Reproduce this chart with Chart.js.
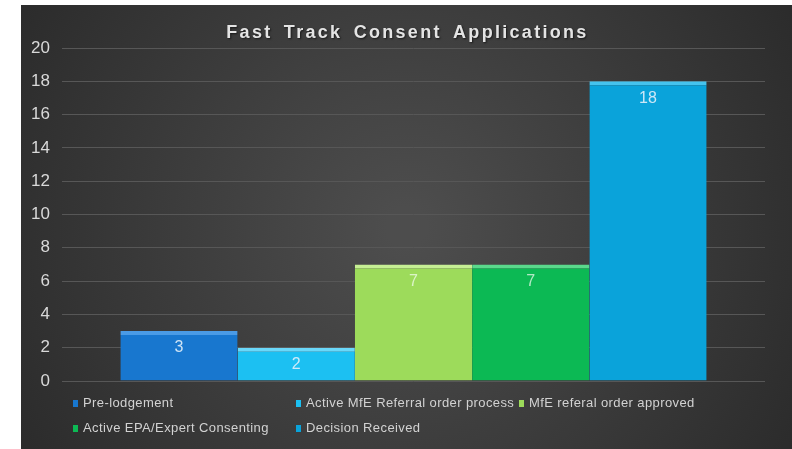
<!DOCTYPE html>
<html lang="en">
<head>
    <meta charset="UTF-8">
    <title>Fast Track Consent Applications</title>
    <script src="https://cdn.jsdelivr.net/npm/chart.js"></script>
    <style>
        body { margin: 0; background: #fff; }
        #wrap { position: absolute; left: 21px; top: 5px; width: 771px; height: 444px; }
    </style>
</head>
<body>
    <div id="wrap"><canvas id="dataChart"></canvas></div>

    <script>
        // chart data
        const chartTitle = 'Fast Track Consent Applications';
        const seriesNames = [
            'Pre-lodgement',
            'Active MfE Referral order process',
            'MfE referal order approved',
            'Active EPA/Expert Consenting',
            'Decision Received'
        ];
        const seriesValues = [3, 2, 7, 7, 18];
        const seriesColors = ['#1877cf', '#1cc0f2', '#9ddb5b', '#0cb954', '#0aa3da'];
        const bevelColors = ['#4a9be6', '#6ad8fa', '#c6ef94', '#5ad98c', '#45c3ee'];
        const labelColors = ['rgba(225,238,250,0.9)', 'rgba(225,238,250,0.9)', 'rgba(235,250,225,0.8)', 'rgba(220,245,225,0.8)', 'rgba(225,238,250,0.9)'];
        const yMin = 0, yMax = 20, yStep = 2;

        // legend layout (Excel-like columns)
        const legendSlots = [[54, 398], [277, 398], [500, 398], [54, 423], [277, 423]];

        const backgroundPlugin = {
            id: 'bg',
            beforeDraw(chart) {
                const { ctx, width, height } = chart;
                const g = ctx.createRadialGradient(width / 2, height / 2, 20, width / 2, height / 2, width * 0.6);
                g.addColorStop(0, '#4d4d4d');
                g.addColorStop(1, '#2a2a2a');
                ctx.save();
                ctx.fillStyle = g;
                ctx.fillRect(0, 0, width, height);
                ctx.restore();
            }
        };

        const titlePlugin = {
            id: 'titleText',
            afterDraw(chart) {
                const ctx = chart.ctx;
                ctx.save();
                ctx.font = 'bold 18px Arial, "Liberation Sans", sans-serif';
                ctx.letterSpacing = '2.3px';
                ctx.wordSpacing = '4px';
                ctx.fillStyle = '#e4e4e4';
                ctx.textAlign = 'center';
                ctx.textBaseline = 'middle';
                ctx.shadowColor = 'rgba(0,0,0,0.6)';
                ctx.shadowOffsetX = 1;
                ctx.shadowOffsetY = 1;
                ctx.shadowBlur = 2;
                ctx.fillText(chartTitle, chart.width / 2 + 1, 28);
                ctx.restore();
            }
        };

        const valueLabelPlugin = {
            id: 'valueLabels',
            afterDatasetsDraw(chart) {
                const ctx = chart.ctx;
                ctx.save();
                ctx.font = '16px Arial, "Liberation Sans", sans-serif';
                ctx.textAlign = 'center';
                ctx.textBaseline = 'middle';
                chart.data.datasets.forEach((ds, i) => {
                    const bar = chart.getDatasetMeta(i).data[0];
                    ctx.fillStyle = labelColors[i];
                    ctx.fillText(ds.data[0], bar.x, bar.y + 17);
                });
                ctx.restore();
            }
        };

        const legendPlugin = {
            id: 'gridLegend',
            afterDraw(chart) {
                const ctx = chart.ctx;
                ctx.save();
                ctx.font = '13px Arial, "Liberation Sans", sans-serif';
                ctx.letterSpacing = '0.4px';
                ctx.textBaseline = 'middle';
                chart.data.datasets.forEach((ds, i) => {
                    const [x, y] = legendSlots[i];
                    ctx.fillStyle = ds.backgroundColor;
                    ctx.fillRect(x - 2, y - 3, 5, 7);
                    ctx.fillStyle = '#d2d2d2';
                    ctx.fillText(ds.label, x + 8, y);
                });
                ctx.restore();
            }
        };

        const ctx = document.getElementById('dataChart').getContext('2d');
        const dataChart = new Chart(ctx, {
            type: 'bar',
            data: {
                labels: [''],
                datasets: seriesNames.map((name, i) => ({
                    label: name,
                    data: [seriesValues[i]],
                    backgroundColor: seriesColors[i],
                    borderColor: bevelColors[i],
                    borderWidth: { top: 4, left: 0, right: 0, bottom: 0 },
                    barPercentage: 1,
                    categoryPercentage: 0.834
                }))
            },
            options: {
                responsive: true,
                maintainAspectRatio: false,
                animation: false,
                layout: { padding: { top: 43, right: 27, bottom: 68, left: 0 } },
                plugins: {
                    legend: { display: false },
                    title: { display: false },
                    tooltip: { enabled: false }
                },
                scales: {
                    x: { display: false },
                    y: {
                        min: yMin,
                        max: yMax,
                        ticks: {
                            stepSize: yStep,
                            color: '#d9d9d9',
                            padding: 12,
                            font: { size: 17, family: 'Arial, "Liberation Sans", sans-serif' }
                        },
                        grid: { color: '#575757', drawTicks: false },
                        border: { display: false },
                        afterFit(axis) { axis.width = 41; }
                    }
                }
            },
            plugins: [backgroundPlugin, valueLabelPlugin, titlePlugin, legendPlugin]
        });
    </script>
</body>
</html>
